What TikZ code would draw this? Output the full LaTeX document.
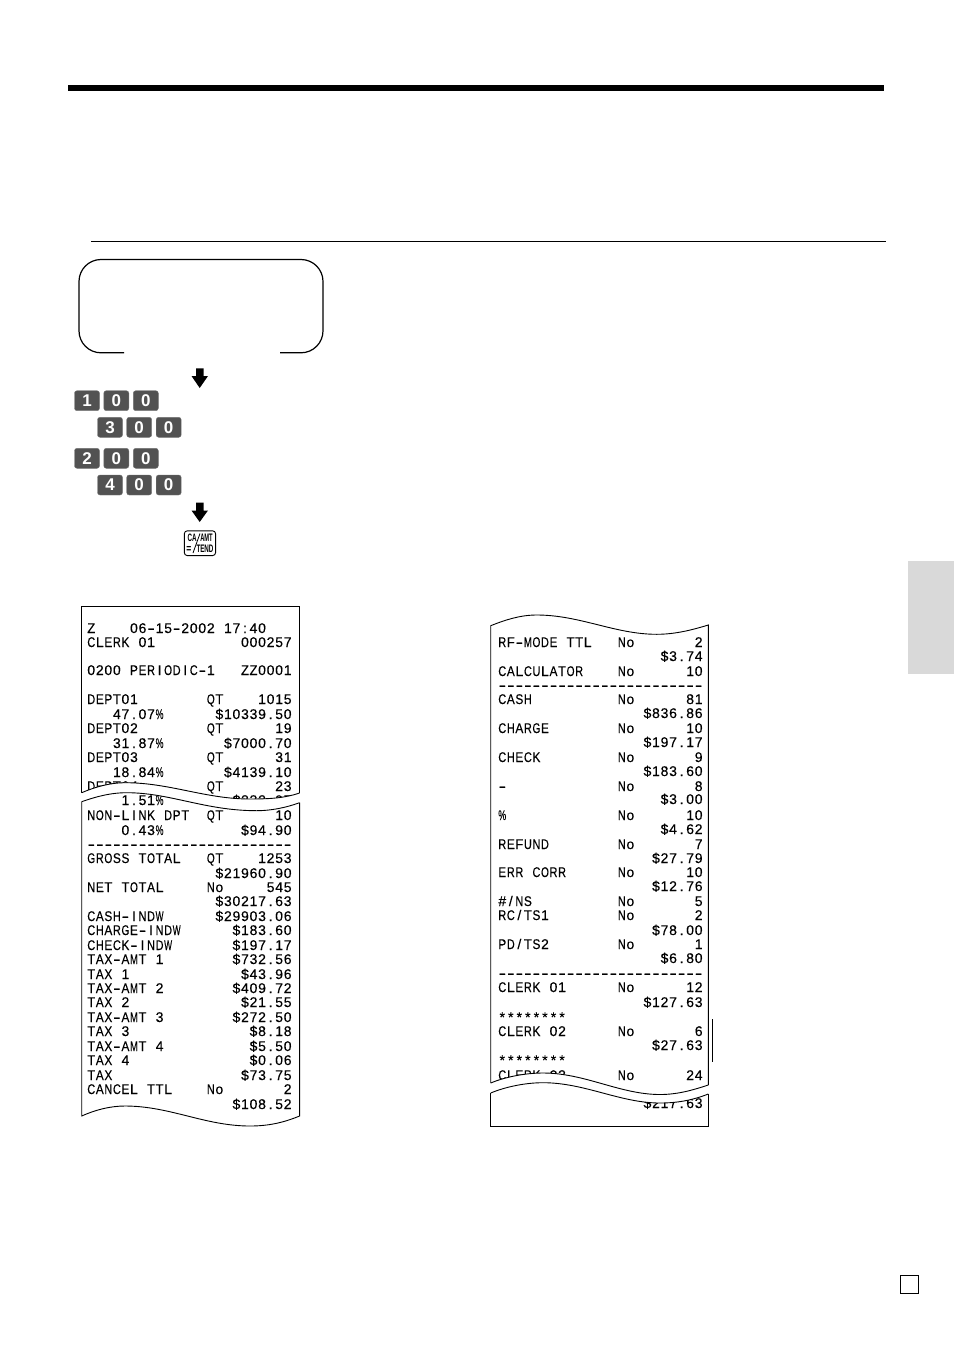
\documentclass[tikz,border=0pt]{standalone}
\usepackage{fontspec}
\usepackage{graphicx}
\setmainfont{Liberation Sans}
\newfontfamily\rfont[FakeBold=0.25]{Liberation Sans}
\newcounter{ln}
\newcommand{\monoch}[1]{%
  \ifx#1-\hbox to 8.54pt{\hss\resizebox{7.4pt}{\height}{-}\hss}%
  \else
    \setbox0=\hbox{#1}%
    \ifdim\wd0>7.9pt \hbox to 8.54pt{\hss\resizebox{7.9pt}{\height}{#1}\hss}%
    \else \hbox to 8.54pt{\hss\box0\hss}\fi
  \fi}
\def\monoloop#1{\ifx#1\relax\else\monoch{#1}\expandafter\monoloop\fi}
\newcommand{\mono}[1]{\monoloop#1\relax}
\tikzset{
  rtext/.style={anchor=base west,inner sep=0pt,outer sep=0pt,font=\fontsize{14pt}{14pt}\rfont,text=black},
  keybox/.style={fill=black!68,draw=black!55,line width=.4pt,rounded corners=2.5pt,minimum width=25pt,minimum height=20pt,inner sep=0pt,text=white,font=\fontsize{17pt}{17pt}\selectfont\bfseries},
  edge/.style={draw=black,line width=.9pt},
  downarrow/.style={fill=black,draw=none},
  cakey/.style={inner sep=0pt,font=\fontsize{8.5pt}{8.5pt}\selectfont\bfseries}
}
\newcommand{\Rc}[5]{\stepcounter{ln}%
  \node[rtext] (l\arabic{ln}) at (#1,#2) {\hbox to 204.96pt{\hbox to 119.56pt{\mono{#3}\hss}\mono{#4}\hfill\mono{#5}}};}
\newcommand{\LL}[4]{\Rc{87}{#1+4}{#2}{#3}{#4}}
\newcommand{\RR}[4]{\Rc{498}{#1+4}{#2}{#3}{#4}}
\newcommand{\Key}[4]{\node[keybox] (#1) at (#2,#3) {#4};}
\begin{document}
\begin{tikzpicture}[x=1pt,y=-1pt]
\useasboundingbox (0,0) rectangle (954,1351);
\fill[white] (0,0) rectangle (954,1351);
% rules
\fill[black] (68,85) rectangle (884,91.5);
\draw[black,line width=.8pt] (91,241.3) -- (886,241.3);
% display box
\draw[black,line width=1.2pt,rounded corners=22pt] (124,352.8) -- (79,352.8) -- (79,259.5) -- (323,259.5) -- (323,352.8) -- (280,352.8);
% arrows
\fill[downarrow] (196,368.3) -- (203.5,368.3) -- (203.5,376) -- (208,376) -- (199.7,388) -- (191.5,376) -- (196,376) -- cycle;
\fill[downarrow] (196,502.7) -- (203.5,502.7) -- (203.5,510.5) -- (208,510.5) -- (199.7,522) -- (191.5,510.5) -- (196,510.5) -- cycle;
% keys
\Key{ka}{87}{400.7}{1}\Key{kb}{116.3}{400.7}{0}\Key{kc}{145.8}{400.7}{0}
\Key{kd}{110}{427.3}{3}\Key{ke}{139.2}{427.3}{0}\Key{kf}{168.7}{427.3}{0}
\Key{kg}{87}{458.3}{2}\Key{kh}{116.3}{458.3}{0}\Key{ki}{145.8}{458.3}{0}
\Key{kj}{110}{485}{4}\Key{kk}{139.2}{485}{0}\Key{kl}{168.7}{485}{0}
% CA key
\draw[black,line width=.9pt,rounded corners=3pt,fill=white] (184.3,530.8) rectangle (215.6,555.6);
\node[cakey] (kca) at (192.2,538) {\resizebox{9pt}{7.5pt}{CA}};
\node[cakey] (kamt) at (206.5,538) {\resizebox{12.5pt}{7.5pt}{AMT}};
\node[cakey] (keq) at (188.8,549) {\resizebox{5pt}{6pt}{=}};
\node[cakey] (ktend) at (205,549) {\resizebox{17pt}{7.5pt}{TEND}};
\draw[black,line width=.8pt] (193,553) -- (200,533.5);
% tab and small box
\fill[black!15] (908,561) rectangle (954,674);
\draw[black,line width=.9pt] (900.3,1275.3) rectangle (918.7,1293);
% left receipt text
\LL{629}{Z~~~~06-15-2002~17:40}{}{}
\LL{643}{CLERK~01}{}{000257}
\LL{671}{0200~PERIODIC-1}{}{ZZ0001}
\LL{700}{DEPT01}{QT}{1015}
\LL{715}{~~~47.07\%}{}{\$10339.50}
\LL{729}{DEPT02}{QT}{19}
\LL{744}{~~~31.87\%}{}{\$7000.70}
\LL{758}{DEPT03}{QT}{31}
\LL{773}{~~~18.84\%}{}{\$4139.10}
\LL{787}{DEPT04}{QT}{23}
\LL{801}{~~~~1.51\%}{}{\$332.97}
\LL{816}{NON-LINK~DPT}{QT}{10}
\LL{831}{~~~~0.43\%}{}{\$94.90}
\LL{845}{------------------------}{}{}
\LL{859}{GROSS~TOTAL}{QT}{1253}
\LL{874}{}{}{\$21960.90}
\LL{888}{NET~TOTAL}{No}{545}
\LL{902}{}{}{\$30217.63}
\LL{917}{CASH-INDW}{}{\$29903.06}
\LL{931}{CHARGE-INDW}{}{\$183.60}
\LL{946}{CHECK-INDW}{}{\$197.17}
\LL{960}{TAX-AMT~1}{}{\$732.56}
\LL{975}{TAX~1}{}{\$43.96}
\LL{989}{TAX-AMT~2}{}{\$409.72}
\LL{1003}{TAX~2}{}{\$21.55}
\LL{1018}{TAX-AMT~3}{}{\$272.50}
\LL{1032}{TAX~3}{}{\$8.18}
\LL{1047}{TAX-AMT~4}{}{\$5.50}
\LL{1061}{TAX~4}{}{\$0.06}
\LL{1076}{TAX}{}{\$73.75}
\LL{1090}{CANCEL~TTL}{No}{2}
\LL{1105}{}{}{\$108.52}
% right receipt text
\RR{643}{RF-MODE~TTL}{No}{2}
\RR{657}{}{}{\$3.74}
\RR{672}{CALCULATOR}{No}{10}
\RR{686}{------------------------}{}{}
\RR{700}{CASH}{No}{81}
\RR{714}{}{}{\$836.86}
\RR{729}{CHARGE}{No}{10}
\RR{743}{}{}{\$197.17}
\RR{758}{CHECK}{No}{9}
\RR{772}{}{}{\$183.60}
\RR{787}{-}{No}{8}
\RR{800}{}{}{\$3.00}
\RR{816}{\%}{No}{10}
\RR{830}{}{}{\$4.62}
\RR{845}{REFUND}{No}{7}
\RR{859}{}{}{\$27.79}
\RR{873}{ERR~CORR}{No}{10}
\RR{887}{}{}{\$12.76}
\RR{902}{\#/NS}{No}{5}
\RR{916}{RC/TS1}{No}{2}
\RR{931}{}{}{\$78.00}
\RR{945}{PD/TS2}{No}{1}
\RR{959}{}{}{\$6.80}
\RR{974}{------------------------}{}{}
\RR{988}{CLERK~01}{No}{12}
\RR{1003}{}{}{\$127.63}
\RR{1018}{********}{}{}
\RR{1032}{CLERK~02}{No}{6}
\RR{1046}{}{}{\$27.63}
\RR{1061}{********}{}{}
\RR{1076}{CLERK~03}{No}{24}
\RR{1104}{}{}{\$217.63}
% left receipt outline
\draw[edge] (81.7,792.7) -- (81.7,606.3) -- (299.6,606.3) -- (299.6,793);
\draw[edge] (81.7,801.7) -- (81.7,1116) .. controls (95,1110) and (110,1106) .. (125,1106) .. controls (170,1106) and (205,1126) .. (250,1126) .. controls (270,1126) and (285,1122) .. (299.6,1116) -- (299.6,802.7);
% left tear
\fill[white] (81.7,792.7) .. controls (95,787) and (110,782.7) .. (125,782.7) .. controls (170,782.7) and (205,799) .. (250,799) .. controls (270,799) and (285,798) .. (299.6,793) -- (299.6,802.7) .. controls (285,808) and (270,810.7) .. (256.7,810.7) .. controls (205,810.7) and (170,792.7) .. (126.7,792.7) .. controls (110,792.7) and (95,797) .. (81.7,801.7) -- cycle;
\draw[edge] (81.7,792.7) .. controls (95,787) and (110,782.7) .. (125,782.7) .. controls (170,782.7) and (205,799) .. (250,799) .. controls (270,799) and (285,798) .. (299.6,793);
\draw[edge] (81.7,801.7) .. controls (95,797) and (110,792.7) .. (126.7,792.7) .. controls (170,792.7) and (205,810.7) .. (256.7,810.7) .. controls (270,810.7) and (285,808) .. (299.6,802.7);
% right receipt outline
\draw[edge] (490.7,1083) -- (490.7,625.7) .. controls (505,620) and (520,615) .. (536.7,615) .. controls (580,615) and (615,634.3) .. (656.7,634.3) .. controls (675,634.3) and (692,630) .. (708.3,625) -- (708.3,1085);
\draw[edge] (490.7,1093) -- (490.7,1126.3) -- (708.3,1126.3) -- (708.3,1094);
% right tear
\fill[white] (490.7,1083) .. controls (505,1077) and (525,1073) .. (543,1073) .. controls (585,1073) and (620,1094.5) .. (660,1094.5) .. controls (678,1094.5) and (693,1090) .. (708.3,1085) -- (708.3,1094) .. controls (693,1100) and (678,1103) .. (660,1103) .. controls (620,1103) and (585,1082.7) .. (543,1082.7) .. controls (525,1082.7) and (505,1087) .. (490.7,1093) -- cycle;
\draw[edge] (490.7,1083) .. controls (505,1077) and (525,1073) .. (543,1073) .. controls (585,1073) and (620,1094.5) .. (660,1094.5) .. controls (678,1094.5) and (693,1090) .. (708.3,1085);
\draw[edge] (490.7,1093) .. controls (505,1087) and (525,1082.7) .. (543,1082.7) .. controls (585,1082.7) and (620,1103) .. (660,1103) .. controls (678,1103) and (693,1100) .. (708.3,1094);
% side bar
\draw[black,line width=.9pt] (712.6,1019) -- (712.6,1062);
\end{tikzpicture}
\end{document}
